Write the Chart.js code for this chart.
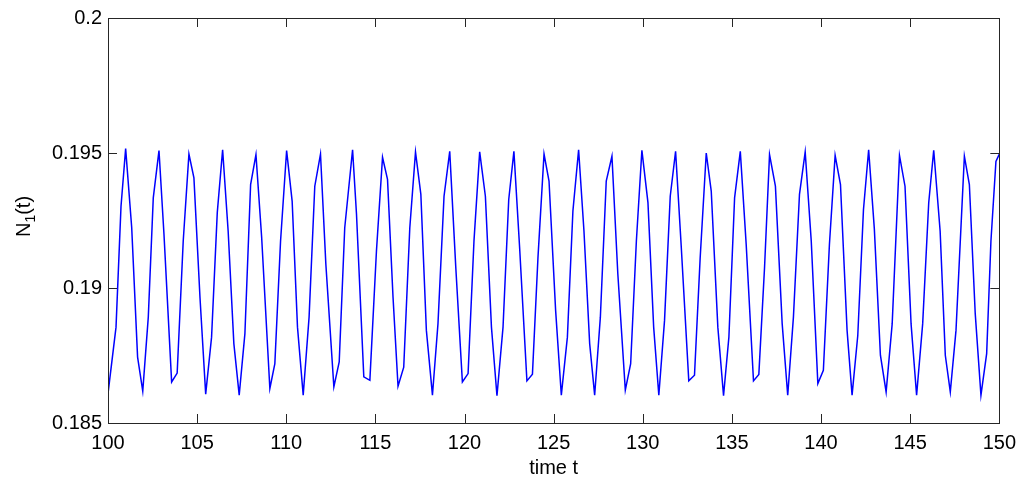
<!DOCTYPE html>
<html>
<head>
<meta charset="utf-8">
<script src="https://cdn.jsdelivr.net/npm/chart.js@4.4.0/dist/chart.umd.min.js"></script>
<style>
html, body { margin: 0; padding: 0; background: #fff; }
#wrap { width: 1024px; height: 484px; }
</style>
</head>
<body>
<div id="wrap"><canvas id="lineChart" width="1024" height="484"></canvas></div>
<script>
// time t
const timeT = [100.00,100.45,100.73,100.99,101.33,101.66,101.95,102.26,102.54,102.86,
103.14,103.57,103.88,104.22,104.54,104.82,105.16,105.48,105.81,106.13,
106.43,106.74,107.06,107.36,107.68,108.00,108.30,108.62,109.08,109.36,
109.68,110.02,110.33,110.63,110.95,111.28,111.60,111.92,112.22,112.67,
112.97,113.28,113.72,113.94,114.35,114.69,115.06,115.40,115.68,115.99,
116.27,116.59,116.93,117.25,117.55,117.86,118.20,118.51,118.85,119.17,
119.51,119.88,120.20,120.53,120.85,121.17,121.51,121.82,122.16,122.48,
122.77,123.09,123.50,123.81,124.12,124.46,124.74,125.11,125.43,125.77,
126.08,126.40,126.70,127.02,127.30,127.62,127.95,128.27,128.60,129.02,
129.32,129.64,129.95,130.29,130.61,130.90,131.22,131.54,131.84,132.16,
132.58,132.90,133.22,133.56,133.84,134.21,134.53,134.83,135.15,135.47,
135.80,136.21,136.51,136.83,137.11,137.44,137.82,138.13,138.45,138.79,
139.11,139.45,139.82,140.13,140.47,140.79,141.09,141.46,141.74,142.06,
142.38,142.67,142.99,143.33,143.65,143.99,144.40,144.71,145.05,145.36,
145.70,146.04,146.32,146.68,146.97,147.25,147.57,148.04,148.32,148.65,
148.97,149.29,149.53,149.81,150.00];

// N1(t)
const n1 = [0.18609,0.18855,0.19303,0.19516,0.19223,0.18744,0.18618,0.18892,0.19334,0.19509,
0.19199,0.18652,0.18685,0.19174,0.19496,0.19408,0.18965,0.18607,0.18818,0.19279,
0.19512,0.19211,0.18794,0.18603,0.18831,0.19383,0.19494,0.19187,0.18628,0.18720,
0.19174,0.19509,0.19322,0.18855,0.18603,0.18892,0.19377,0.19496,0.19089,0.18634,
0.18726,0.19223,0.19512,0.19273,0.18671,0.18658,0.19138,0.19484,0.19402,0.18965,
0.18636,0.18707,0.19223,0.19504,0.19347,0.18843,0.18603,0.18867,0.19340,0.19506,
0.19076,0.18652,0.18683,0.19174,0.19504,0.19340,0.18855,0.18601,0.18855,0.19328,
0.19506,0.19150,0.18656,0.18681,0.19113,0.19496,0.19396,0.18917,0.18603,0.18818,
0.19285,0.19512,0.19211,0.18794,0.18603,0.18892,0.19396,0.19488,0.19052,0.18622,
0.18720,0.19174,0.19510,0.19316,0.18855,0.18603,0.18880,0.19340,0.19506,0.19150,
0.18656,0.18677,0.19113,0.19500,0.19359,0.18855,0.18601,0.18818,0.19334,0.19506,
0.19162,0.18656,0.18680,0.19076,0.19494,0.19377,0.18867,0.18603,0.18892,0.19347,
0.19504,0.19174,0.18646,0.18695,0.19162,0.19491,0.19383,0.18843,0.18603,0.18824,
0.19291,0.19512,0.19218,0.18751,0.18615,0.18867,0.19491,0.19377,0.18867,0.18603,
0.18867,0.19316,0.19510,0.19211,0.18751,0.18615,0.18843,0.19488,0.19383,0.18904,
0.18603,0.18757,0.19174,0.19469,0.19496];

const xTicks = [100, 105, 110, 115, 120, 125, 130, 135, 140, 145, 150];
const yTicks = [0.185, 0.19, 0.195, 0.2];
const yTickLabels = ['0.185', '0.19', '0.195', '0.2'];

const FONT = '"Liberation Sans", Arial, Helvetica, sans-serif';

var points = [];
for (let i = 0; i < timeT.length; i++) {
    points.push({ x: timeT[i], y: n1[i] });
}

// matlab style box, inward ticks on all four sides, axis titles
const boxPlugin = {
    id: 'matlabBox',
    afterDraw(chart) {
        const ctx = chart.ctx;
        const a = chart.chartArea;
        const xs = chart.scales.x;
        const ys = chart.scales.y;
        ctx.save();
        ctx.strokeStyle = '#262626';
        ctx.lineWidth = 1;
        ctx.strokeRect(Math.round(a.left) + 0.5, Math.round(a.top) + 0.5,
            Math.round(a.right - a.left), Math.round(a.bottom - a.top));
        ctx.beginPath();
        xTicks.forEach(function (v) {
            const px = Math.round(xs.getPixelForValue(v)) + 0.5;
            ctx.moveTo(px, a.bottom); ctx.lineTo(px, a.bottom - 9);
            ctx.moveTo(px, a.top); ctx.lineTo(px, a.top + 9);
        });
        yTicks.forEach(function (v) {
            const py = Math.round(ys.getPixelForValue(v)) + 0.5;
            ctx.moveTo(a.left, py); ctx.lineTo(a.left + 9, py);
            ctx.moveTo(a.right, py); ctx.lineTo(a.right - 9, py);
        });
        ctx.stroke();

        ctx.fillStyle = '#000';
        ctx.font = '20px ' + FONT;
        ctx.textAlign = 'center';
        ctx.textBaseline = 'alphabetic';
        ctx.fillText('time t', (a.left + a.right) / 2, 474);

        // y title with subscript
        ctx.translate(30, (a.top + a.bottom) / 2 - 4);
        ctx.rotate(-Math.PI / 2);
        ctx.textAlign = 'left';
        ctx.font = '20px ' + FONT;
        const wN = ctx.measureText('N').width;
        const wP = ctx.measureText('(t)').width;
        ctx.font = '14px ' + FONT;
        const w1 = ctx.measureText('1').width;
        let x0 = -(wN + w1 + wP) / 2;
        ctx.font = '20px ' + FONT;
        ctx.fillText('N', x0, 0);
        ctx.font = '14px ' + FONT;
        ctx.fillText('1', x0 + wN, 5);
        ctx.font = '20px ' + FONT;
        ctx.fillText('(t)', x0 + wN + w1, 0);
        ctx.restore();
    }
};

const ctx = document.getElementById('lineChart').getContext('2d');
const chart = new Chart(ctx, {
    type: 'line',
    data: {
        datasets: [{
            label: 'N1(t)',
            data: points,
            borderColor: '#0000ff',
            backgroundColor: '#0000ff',
            borderWidth: 1.5,
            pointRadius: 0,
            tension: 0,
            fill: false
        }]
    },
    options: {
        responsive: false,
        animation: false,
        layout: { padding: { left: 0, top: 16, right: 24, bottom: 0 } },
        plugins: {
            legend: { display: false },
            tooltip: { enabled: false }
        },
        scales: {
            x: {
                type: 'linear',
                min: 100,
                max: 150,
                afterBuildTicks: function (scale) {
                    scale.ticks = xTicks.map(function (v) { return { value: v }; });
                },
                afterFit: function (scale) { scale.height = 61; },
                grid: { display: false, drawTicks: false },
                border: { display: false },
                ticks: {
                    color: '#000',
                    padding: 8,
                    maxRotation: 0,
                    font: { family: FONT, size: 20 },
                    callback: function (v) { return String(v); }
                }
            },
            y: {
                type: 'linear',
                min: 0.185,
                max: 0.2,
                afterBuildTicks: function (scale) {
                    scale.ticks = yTicks.map(function (v) { return { value: v }; });
                },
                afterFit: function (scale) { scale.width = 108; },
                grid: { display: false, drawTicks: false },
                border: { display: false },
                ticks: {
                    color: '#000',
                    padding: 6,
                    font: { family: FONT, size: 20 },
                    callback: function (v, i) { return yTickLabels[i]; }
                }
            }
        }
    },
    plugins: [boxPlugin]
});
</script>
</body>
</html>
